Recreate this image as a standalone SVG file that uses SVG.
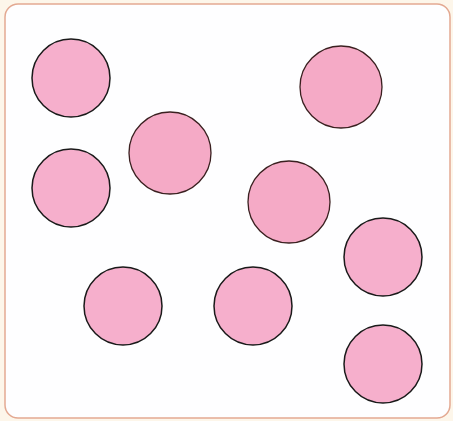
<svg xmlns="http://www.w3.org/2000/svg" width="453" height="421" viewBox="0 0 453 421">
<style>
.c{fill:#f6afcc;stroke:#1a1a1a;stroke-width:1.5}
.d{fill:#f5aac6;stroke:#3a2020;stroke-width:1.3}
</style>
<rect x="0" y="0" width="453" height="421" fill="#fdf6ea"/>
<rect id="frame" x="5" y="4" width="445" height="414" rx="13" fill="#fefeff" stroke="#e3a992" stroke-width="1.5"/>
<g id="connectors"/>
<g id="n1"><circle class="c" cx="71" cy="78" r="39"/></g>
<g id="n2"><circle class="c" cx="71" cy="188" r="39"/></g>
<g id="n3"><circle class="d" cx="170" cy="153" r="41"/></g>
<g id="n4"><circle class="d" cx="341" cy="87" r="41"/></g>
<g id="n5"><circle class="d" cx="289" cy="202" r="41"/></g>
<g id="n6"><circle class="c" cx="383" cy="257" r="39"/></g>
<g id="n7"><circle class="c" cx="123" cy="306" r="39"/></g>
<g id="n8"><circle class="c" cx="253" cy="306" r="39"/></g>
<g id="n9"><circle class="c" cx="383" cy="364" r="39"/></g>
</svg>
